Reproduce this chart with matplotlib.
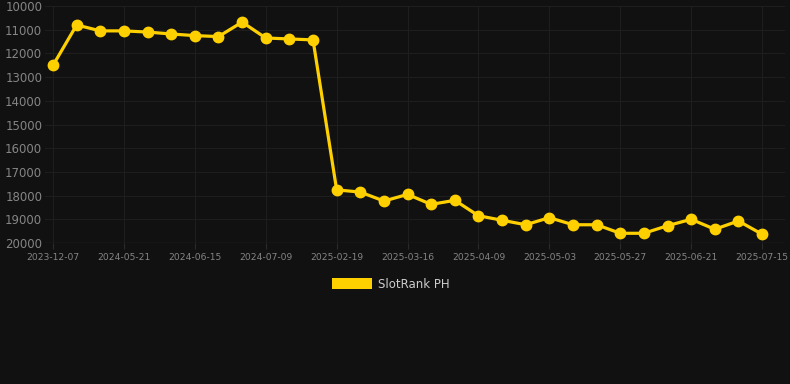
import numpy as np
import matplotlib
matplotlib.use("Agg")
import matplotlib.pyplot as plt
from matplotlib.patches import Rectangle

# rank values (lower number = better), one per date
ranks = [12500, 10800, 11050, 11050, 11100, 11180, 11250, 11290, 10680, 11350,
         11390, 11430, 17760, 17850, 18230, 17950, 18370, 18200, 18850, 19040,
         19230, 18930, 19230, 19230, 19590, 19590, 19270, 19000, 19420, 19070,
         19630]
tick_labels = ['2023-12-07', '2024-05-21', '2024-06-15', '2024-07-09', '2025-02-19',
               '2025-03-16', '2025-04-09', '2025-05-03', '2025-05-27', '2025-06-21',
               '2025-07-15']
y_ticks = [10000, 11000, 12000, 13000, 14000, 15000, 16000, 17000, 18000, 19000, 20000]
series_name = 'SlotRank PH'

bg = '#111111'
gold = '#FFD000'
grid_col = '#1e1e1e'
text_col = '#858585'

fig = plt.figure(figsize=(7.9, 3.84), dpi=100, facecolor=bg)
ax = fig.add_axes([45 / 790, 1 - 243 / 384, 740 / 790, 237 / 384], facecolor=bg)

x = np.arange(len(ranks))
ax.plot(x, ranks, color=gold, lw=2.3, marker='o', markersize=7.5,
        markerfacecolor=gold, markeredgecolor=gold, zorder=3)

ax.set_ylim(20000, 10000)
ax.set_xlim(-0.34, 30.97)
ax.set_yticks(y_ticks)
ax.set_yticklabels([str(v) for v in y_ticks])
ax.set_xticks(np.arange(0, len(ranks), 3))
ax.set_xticklabels(tick_labels)

ax.grid(True, color=grid_col, lw=0.8)
for s in ax.spines.values():
    s.set_visible(False)
ax.axhline(20000, color='#2a2a2a', lw=1)
ax.tick_params(axis='y', colors=text_col, labelsize=8.5, length=0, pad=2)
ax.tick_params(axis='x', colors=text_col, labelsize=6.6, length=4, color='#2a2a2a', pad=3)

# legend
fig.patches.append(Rectangle((332 / 790, 1 - 289 / 384), 40 / 790, 11 / 384,
                             transform=fig.transFigure, facecolor=gold, edgecolor='none'))
fig.text(378 / 790, 1 - 284 / 384, series_name, color='#cccccc', fontsize=8.5, va='center')

fig.savefig('out.png', facecolor=bg)
